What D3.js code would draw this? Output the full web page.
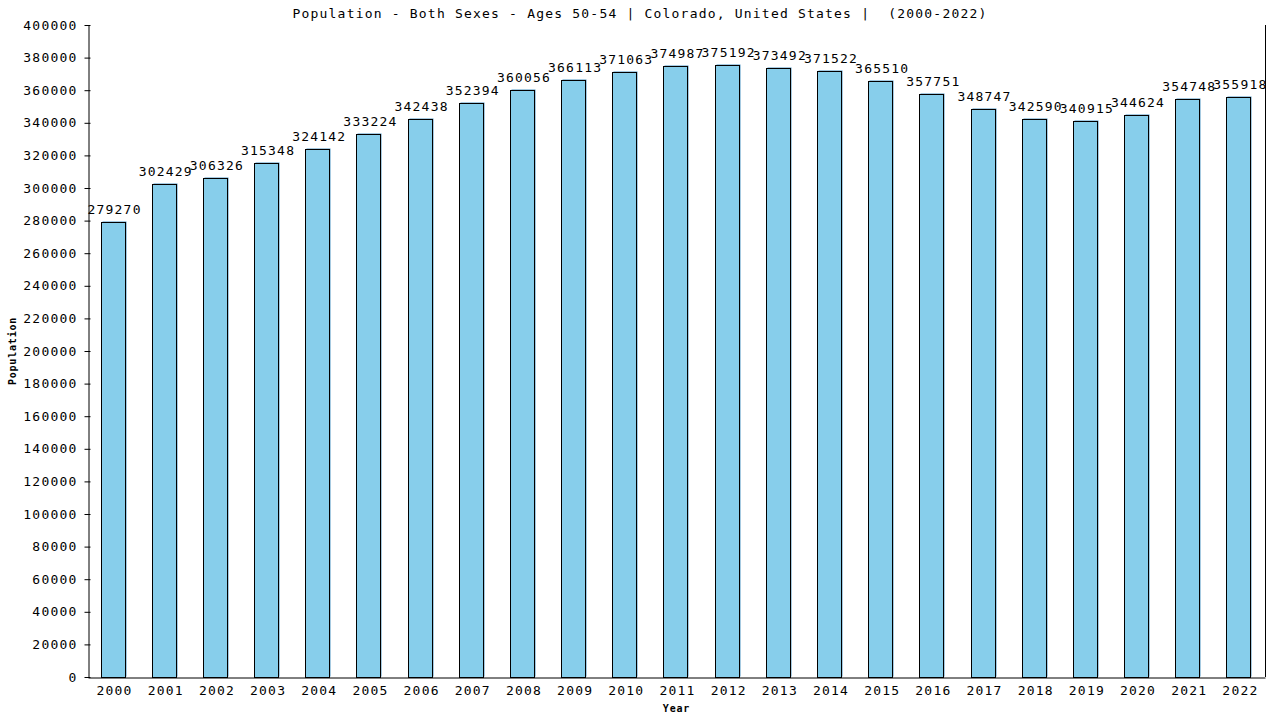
<!DOCTYPE html>
<html>
<head>
<meta charset="utf-8">
<script src="https://cdn.jsdelivr.net/npm/d3@7"></script>
<style>
  body { margin: 0; background: #fff; }
  text { font-family: "DejaVu Sans Mono", monospace; fill: #000; white-space: pre; }
</style>
</head>
<body>
<svg id="chart"></svg>
<script>
// data
const years = ["2000", "2001", "2002", "2003", "2004", "2005", "2006", "2007", "2008", "2009", "2010", "2011",
    "2012", "2013", "2014", "2015", "2016", "2017", "2018", "2019", "2020", "2021", "2022"];
const population = [279270, 302429, 306326, 315348, 324142, 333224, 342438, 352394, 360056, 366113, 371063, 374987,
    375192, 373492, 371522, 365510, 357751, 348747, 342590, 340915, 344624, 354748, 355918];
const yTicks = d3.range(0, 400001, 20000);

const data = years.map((y, i) => ({ year: y, value: population[i] }));

width = 1280;
height = 720;
margin = ({ top: 25, right: 15, bottom: 43, left: 88 });

x = d3.scaleBand()
    .domain(years)
    .range([margin.left, width - margin.right])
    .paddingInner(0.53)
    .paddingOuter(0.265);

y = d3.scaleLinear()
    .domain([0, 400000])
    .range([height - margin.bottom, margin.top]);

const svg = d3.select("#chart")
    .attr("width", width)
    .attr("height", height)
    .attr("viewBox", [0, 0, width, height]);

// thin blue edge behind each bar
svg.append("g")
    .attr("fill", "#4f95c4")
    .selectAll("rect")
    .data(data)
    .join("rect")
    .attr("x", d => Math.round(x(d.year)) + 0.5)
    .attr("y", d => Math.round(y(d.value)) - 0.5)
    .attr("width", Math.round(x.bandwidth()))
    .attr("height", d => y(0) - Math.round(y(d.value)));

svg.append("g")
    .attr("fill", "#87ceeb")
    .attr("stroke", "#000")
    .attr("stroke-width", 1)
    .selectAll("rect")
    .data(data)
    .join("rect")
    .attr("x", d => Math.round(x(d.year)) - 0.5)
    .attr("y", d => Math.round(y(d.value)) + 0.5)
    .attr("width", Math.round(x.bandwidth()))
    .attr("height", d => y(0) - Math.round(y(d.value)));

const font = g => g
    .style("font-family", "DejaVu Sans Mono, monospace")
    .style("font-size", "13px")
    .style("letter-spacing", "1.2px");

// value labels
svg.append("g")
    .attr("text-anchor", "middle")
    .call(font)
    .selectAll("text")
    .data(data)
    .join("text")
    .attr("x", d => x(d.year) + x.bandwidth() / 2 + 1)
    .attr("y", d => y(d.value) - 8)
    .text(d => d.value);

// y axis
const yAxis = g => g
    .attr("transform", `translate(${margin.left + 0.5},0)`)
    .call(d3.axisLeft(y).tickValues(yTicks).tickFormat(d => d).tickSize(4).tickSizeOuter(0))
    .call(g => g.selectAll(".tick line").attr("x2", -4).attr("x1", 2))
    .call(g => g.selectAll("text").attr("x", -11).call(font));

// x axis
const xAxis = g => g
    .attr("transform", `translate(0,${height - margin.bottom + 0.5})`)
    .call(d3.axisBottom(x).tickSize(0).tickSizeOuter(0))
    .call(g => g.selectAll("text").attr("dy", "1.1em").attr("dx", "1px").call(font));

svg.append("g").call(xAxis);
svg.append("g").call(yAxis);

// right border
svg.append("line")
    .attr("x1", width - margin.right + 0.5)
    .attr("x2", width - margin.right + 0.5)
    .attr("y1", margin.top)
    .attr("y2", height - margin.bottom)
    .attr("stroke", "#000");

// title
svg.append("text")
    .attr("x", 640)
    .attr("y", 18)
    .attr("text-anchor", "middle")
    .call(font)
    .text("Population - Both Sexes - Ages 50-54 | Colorado, United States |  (2000-2022)");

// axis titles
svg.append("text")
    .attr("x", (margin.left + width - margin.right) / 2)
    .attr("y", 712)
    .attr("text-anchor", "middle")
    .style("font-size", "10px")
    .style("font-weight", "bold")
    .style("letter-spacing", "0.8px")
    .text("Year");

svg.append("text")
    .attr("transform", `translate(16,${(margin.top + height - margin.bottom) / 2}) rotate(-90)`)
    .attr("text-anchor", "middle")
    .style("font-size", "10px")
    .style("font-weight", "bold")
    .style("letter-spacing", "0.8px")
    .text("Population");
</script>
</body>
</html>
